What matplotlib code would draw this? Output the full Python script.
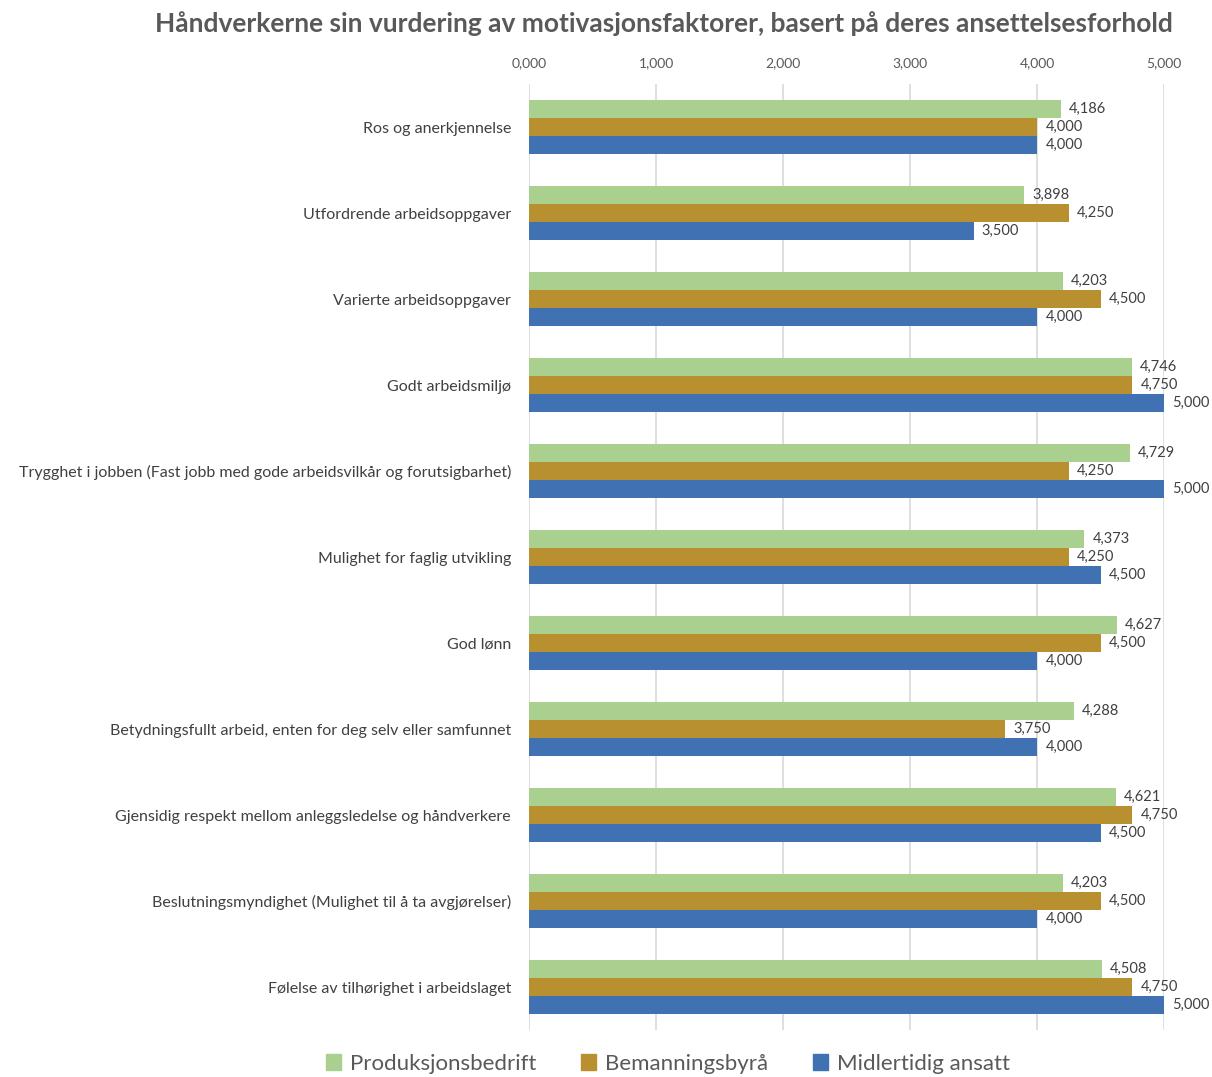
import matplotlib
matplotlib.use("Agg")
import matplotlib.pyplot as plt
import numpy as np

plt.rcParams['font.family'] = ['Lato', 'DejaVu Sans']

categories = [
    "Ros og anerkjennelse",
    "Utfordrende arbeidsoppgaver",
    "Varierte arbeidsoppgaver",
    "Godt arbeidsmiljø",
    "Trygghet i jobben (Fast jobb med gode arbeidsvilkår og forutsigbarhet)",
    "Mulighet for faglig utvikling",
    "God lønn",
    "Betydningsfullt arbeid, enten for deg selv eller samfunnet",
    "Gjensidig respekt mellom anleggsledelse og håndverkere",
    "Beslutningsmyndighet (Mulighet til å ta avgjørelser)",
    "Følelse av tilhørighet i arbeidslaget",
]

series_names = ["Produksjonsbedrift", "Bemanningsbyrå", "Midlertidig ansatt"]
produksjonsbedrift = [4.186, 3.898, 4.203, 4.746, 4.729, 4.373, 4.627, 4.288, 4.621, 4.203, 4.508]
bemanningsbyraa = [4.000, 4.250, 4.500, 4.750, 4.250, 4.250, 4.500, 3.750, 4.750, 4.500, 4.750]
midlertidig = [4.000, 3.500, 4.000, 5.000, 5.000, 4.500, 4.000, 4.000, 4.500, 4.000, 5.000]
x_ticks = [0, 1, 2, 3, 4, 5]

colors = ["#A9D08E", "#B8902F", "#4071B3"]
text_color = "#595959"

fig = plt.figure(figsize=(12.12, 10.77), dpi=100)
ax = fig.add_axes([529 / 1212, 1 - 1030 / 1077, (1164 - 529) / 1212, (1030 - 84) / 1077])

y = np.arange(len(categories))
h = 0.21
offsets = [-h, 0, h]
for vals, off, col in zip([produksjonsbedrift, bemanningsbyraa, midlertidig], offsets, colors):
    ax.barh(y + off, vals, height=h, color=col, zorder=3)
    for v, yy in zip(vals, y + off):
        ax.annotate(f"{v:.3f}".replace(".", ","), xy=(v, yy), xytext=(6, 0),
                    textcoords="offset points", va="center", ha="left",
                    fontsize=10.5, color="#404040")

ax.set_xlim(0, 5)
ax.set_ylim(len(categories) - 0.5, -0.5)
ax.set_xticks(x_ticks)
ax.set_xticklabels([f"{t:.3f}".replace(".", ",") for t in x_ticks], fontsize=10, color=text_color)
ax.xaxis.tick_top()
ax.tick_params(axis="x", length=0, pad=11)
ax.tick_params(axis="y", length=0, pad=13)
ax.set_yticks(y)
ax.set_yticklabels(categories, fontsize=11.5, color="#404040")
ax.grid(axis="x", color="#D9D9D9", linewidth=1.2, zorder=0)
for s in ax.spines.values():
    s.set_visible(False)

fig.text(664 / 1212, 1 - 24 / 1077, "Håndverkerne sin vurdering av motivasjonsfaktorer, basert på deres ansettelsesforhold",
         ha="center", va="center", fontsize=19, fontweight="bold", color=text_color)

handles = [plt.Rectangle((0, 0), 1, 1, color=c) for c in colors]
fig.legend(handles, series_names, loc="center", bbox_to_anchor=(668 / 1212, 1 - 1064 / 1077),
           ncol=3, frameon=False, fontsize=16, labelcolor=text_color,
           handlelength=0.7, handleheight=0.7, columnspacing=2.0, handletextpad=0.4)

fig.savefig("out.png", dpi=100)
